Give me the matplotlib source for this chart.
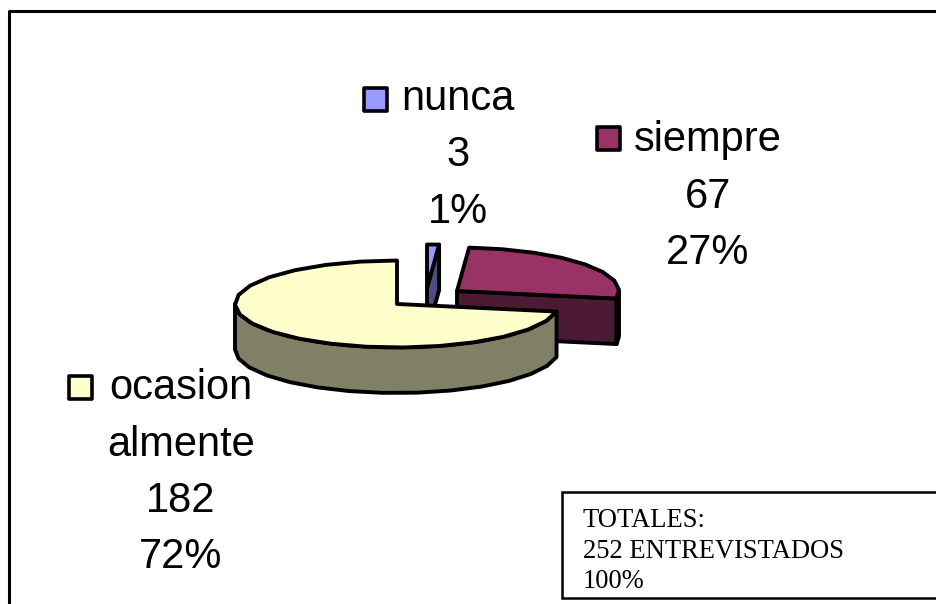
import numpy as np
import matplotlib
matplotlib.use("Agg")
import matplotlib.pyplot as plt
from matplotlib.patches import Polygon, Rectangle

categories = ["nunca", "siempre", "ocasionalmente"]
values = [3, 67, 182]
percent_labels = ["1%", "27%", "72%"]
top_colors = ["#9999ff", "#993366", "#ffffcc"]
side_colors = ["#4d4d80", "#4d1a33", "#808066"]
apexes = [(427, 288), (457, 291), (397, 304)]
RX, RY, DEPTH = 162, 43.5, 45.5
STEP = 13.0
LW = 2.8
total_label = ["TOTALES:", "252 ENTREVISTADOS", "100%"]

W, H = 937, 604
fig = plt.figure(figsize=(W / 100, H / 100), dpi=100)
ax = fig.add_axes([0, 0, 1, 1])
ax.set_xlim(0, W)
ax.set_ylim(H, 0)
ax.axis("off")


def rim(apex, a0, a1):
    n = max(1, int(np.ceil((a1 - a0) / STEP)))
    t = np.radians(np.linspace(a0, a1, n + 1))
    return np.column_stack([apex[0] + RX * np.sin(t), apex[1] - RY * np.cos(t)])


def poly(pts, fc, z):
    ax.add_patch(Polygon(pts, closed=True, fc=fc, ec="black", lw=LW, joinstyle="round", zorder=z))


down = np.array([0, DEPTH])
fracs = np.array(values) / sum(values) * 360
starts = np.concatenate([[0], np.cumsum(fracs)[:-1]])

for i, (start, span) in enumerate(zip(starts, fracs)):
    a0, a1 = start, start + span
    apex = np.array(apexes[i], dtype=float)
    z = 2 + i * 3
    edge = rim(apex, a0, a1)
    if i == 0:
        poly(np.array([apex, edge[-1], edge[-1] + down, apex + down]), side_colors[i], z)
    if i == 1:
        poly(np.array([apex, edge[-1], edge[-1] + down, apex + down]), side_colors[i], z)
        front = rim(apex, 90, a1)
        poly(np.vstack([front, (front + down)[::-1]]), "#000000", z)
    if i == 2:
        front = rim(apex, a0, 270)
        poly(np.vstack([front, (front + down)[::-1]]), side_colors[i], z)
    poly(np.vstack([apex, edge]), top_colors[i], z + 1)

FS = 30
label_x = [458, 708, 181]
label_lines = [
    [categories[0], str(values[0]), percent_labels[0]],
    [categories[1], str(values[1]), percent_labels[1]],
    ["ocasion", "almente", str(values[2]), percent_labels[2]],
]
label_base = [110, 151, 399]
GAP = 56.5
key_xy = [(376, 99), (609, 138.5), (80.5, 387)]
for x, lines, y0, key, c in zip(label_x, label_lines, label_base, key_xy, top_colors):
    ax.add_patch(Rectangle((key[0] - 11.5, key[1] - 11.5), 23, 23, fc=c, ec="black", lw=2.6,
                           joinstyle="round", zorder=20))
    for j, s in enumerate(lines):
        ax.text(x, y0 + j * GAP, s, fontsize=FS, family="Liberation Sans",
                ha="center", va="baseline", color="black", zorder=21)

# outer frame and the totals box
ax.plot([9, 9, W], [H, 10.5, 10.5], color="black", lw=2.2, solid_capstyle="butt", zorder=30)
ax.add_patch(Rectangle((562, 492), W - 562 + 5, 106, fc="white", ec="black", lw=1.8, zorder=30))
for j, s in enumerate(total_label):
    ax.text(583, 527 + j * 30.5, s, fontsize=19.1, family="Liberation Serif",
            ha="left", va="baseline", color="black", zorder=31)

fig.savefig("out.png", dpi=100)
